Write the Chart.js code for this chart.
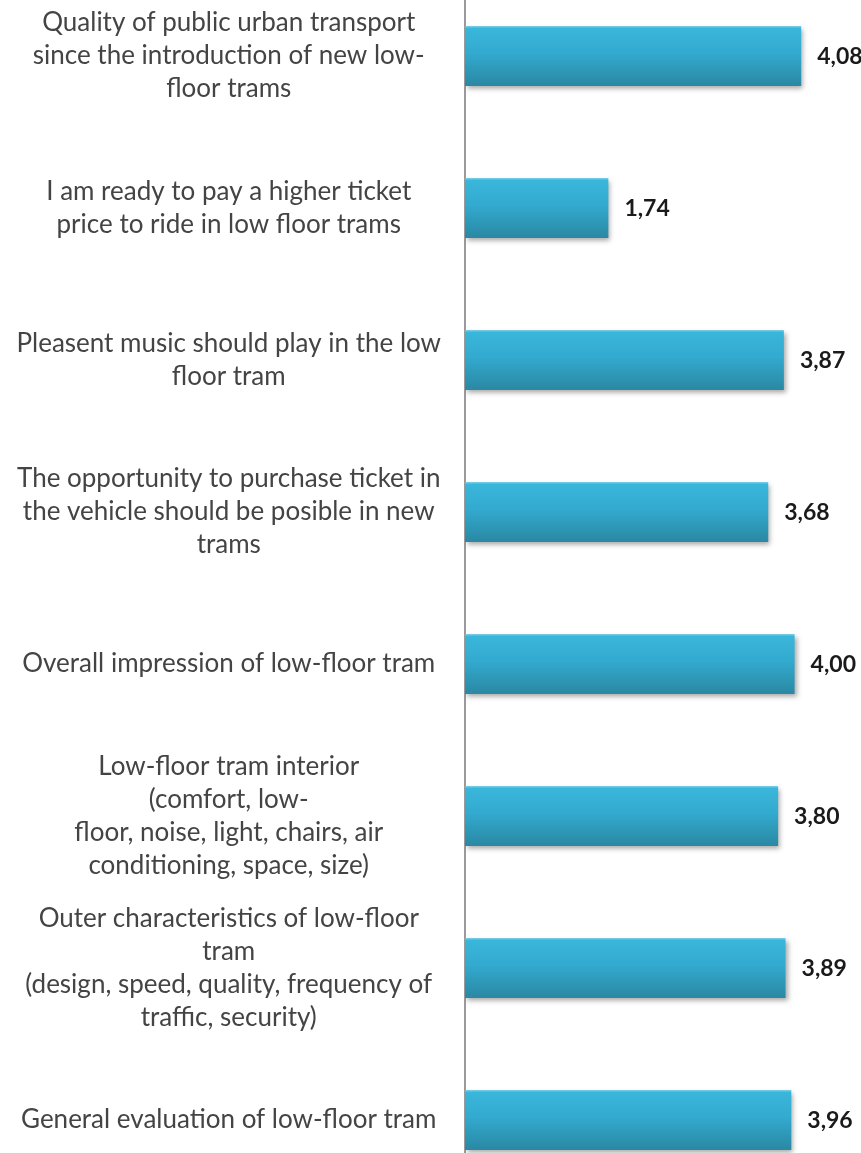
<!DOCTYPE html>
<html>
<head>
<meta charset="utf-8">
<script src="https://cdn.jsdelivr.net/npm/chart.js@4/dist/chart.umd.min.js"></script>
<style>
  html, body { margin: 0; padding: 0; background: #fff; overflow: hidden; width: 861px; height: 1153px; }
  #wrap { position: absolute; left: 0; top: -20px; width: 877px; height: 1216px; }
</style>
</head>
<body>
<div id="wrap"><canvas id="c" width="877" height="1216"></canvas></div>
<script>
const categories = [
  ["Quality of public urban transport", "since the introduction of new low-", "floor trams"],
  ["I am ready to pay a higher ticket", "price to ride in low floor trams"],
  ["Pleasent music should play in the low", "floor tram"],
  ["The opportunity to purchase ticket in", "the vehicle should be posible in new", "trams"],
  ["Overall impression of low-floor tram"],
  ["Low-floor tram interior", "(comfort, low-", "floor, noise, light, chairs, air", "conditioning, space, size)"],
  ["Outer characteristics of low-floor", "tram", "(design, speed, quality, frequency of", "traffic, security)"],
  ["General evaluation of low-floor tram"]
];
const values = [4.08, 1.74, 3.87, 3.68, 4.00, 3.80, 3.89, 3.96];

function barGradient(ctx) {
  const chart = ctx.chart;
  const ys = chart.scales && chart.scales.y;
  if (!chart.chartArea || !ys) return '#33aed3';
  const cy = ys.getPixelForValue(ctx.dataIndex);
  if (!isFinite(cy)) return '#33aed3';
  const h = 60;
  const g = chart.ctx.createLinearGradient(0, cy - h / 2, 0, cy + h / 2);
  g.addColorStop(0, '#7fd0ea');
  g.addColorStop(0.04, '#3ab6da');
  g.addColorStop(0.45, '#33aacf');
  g.addColorStop(1, '#2a88a3');
  return g;
}

const shadowPlugin = {
  id: 'barShadow',
  beforeDatasetDraw(chart) {
    const c = chart.ctx;
    c.save();
    c.shadowColor = 'rgba(0,0,0,0.35)';
    c.shadowBlur = 5;
    c.shadowOffsetX = 2;
    c.shadowOffsetY = 3;
  },
  afterDatasetDraw(chart) {
    chart.ctx.restore();
  }
};

const valueLabels = {
  id: 'valueLabels',
  afterDatasetsDraw(chart) {
    const c = chart.ctx;
    const meta = chart.getDatasetMeta(0);
    c.save();
    c.font = 'bold 23px Lato';
    c.fillStyle = '#1a1a1a';
    c.textAlign = 'left';
    c.textBaseline = 'middle';
    meta.data.forEach((bar, i) => {
      c.fillText(values[i].toFixed(2).replace('.', ','), bar.x + 16, bar.y + 1);
    });
    c.restore();
  }
};

new Chart(document.getElementById('c'), {
  type: 'bar',
  data: {
    labels: categories,
    datasets: [{
      data: values,
      backgroundColor: barGradient,
      borderWidth: 0,
      barPercentage: 0.395,
      categoryPercentage: 1
    }]
  },
  options: {
    indexAxis: 'y',
    responsive: false,
    animation: false,
    layout: { padding: 0 },
    plugins: { legend: { display: false }, tooltip: { enabled: false } },
    scales: {
      x: {
        display: false,
        min: 0,
        max: 5
      },
      y: {
        grid: { display: false, drawTicks: false },
        border: { display: true, color: '#9a9a9a', width: 2 },
        ticks: {
          crossAlign: 'center',
          padding: 24,
          color: '#444444',
          font: { family: 'Lato', size: 26, lineHeight: 1.27 }
        },
        afterFit(scale) {
          scale.width = 465;
          scale.paddingTop = 0;
          scale.paddingBottom = 0;
        }
      }
    }
  },
  plugins: [shadowPlugin, valueLabels]
});
</script>
</body>
</html>
